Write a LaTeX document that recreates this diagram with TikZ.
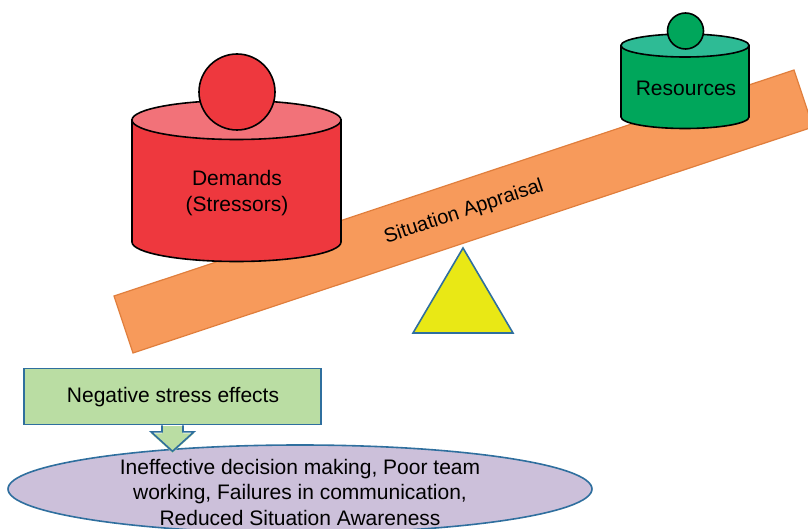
\documentclass[tikz,border=0pt]{standalone}
\usepackage{fontspec}
\setmainfont{Liberation Sans}
\usetikzlibrary{shapes.geometric}
\definecolor{plankfill}{HTML}{F79A5B}
\definecolor{plankline}{HTML}{E07E3C}
\definecolor{redside}{HTML}{EE383E}
\definecolor{redtop}{HTML}{F27279}
\definecolor{greenside}{HTML}{00A65B}
\definecolor{greentop}{HTML}{2EBB95}
\definecolor{yel}{HTML}{E9E815}
\definecolor{blueline}{HTML}{2F6F9E}
\definecolor{boxfill}{HTML}{BADDA3}
\definecolor{ellfill}{HTML}{CCC0DA}
\begin{document}
\begin{tikzpicture}[x=1pt,y=-1pt,
  lbl/.style={font=\fontsize{21}{25.5}\selectfont, align=center, inner sep=0pt, text=black},
  cyl/.style={draw=black, line width=1.6pt},
  blueedge/.style={draw=blueline, line width=1.6pt}]
\useasboundingbox (0,0) rectangle (808,529);
\clip (0,0) rectangle (808,529);
% plank
\filldraw[fill=plankfill, draw=plankline, line width=1.2pt]
  (114,296) -- (794,70) -- (813,127) -- (133,353) -- cycle;
\node[lbl, font=\fontsize{20}{24}\selectfont, rotate=18.4] (sa) at (464,212) {Situation Appraisal};
% fulcrum
\filldraw[fill=yel, blueedge] (463,248) -- (413,333) -- (513,333) -- cycle;
% demands cylinder
\filldraw[cyl, fill=redside] (132,120) -- (132,242)
  arc[start angle=180, end angle=0, x radius=104.5, y radius=19.5] -- (341,120) -- cycle;
\filldraw[cyl, fill=redtop] (236.5,120) ellipse [x radius=104.5, y radius=19.5];
\filldraw[cyl, fill=redside] (237,92) circle [radius=38];
\node[lbl] (dem) at (237,193) {Demands\\(Stressors)};
% resources cylinder
\filldraw[cyl, fill=greenside] (621,45.5) -- (621,117)
  arc[start angle=180, end angle=0, x radius=64, y radius=11.5] -- (749,45.5) -- cycle;
\filldraw[cyl, fill=greentop] (685,45.5) ellipse [x radius=64, y radius=11.5];
\filldraw[cyl, fill=greenside] (685.5,31) circle [radius=18];
\node[lbl] (res) at (686,88) {Resources};
% effects ellipse
\node[ellipse, fill=ellfill, blueedge, minimum width=584pt, minimum height=88pt, inner sep=0pt] (eff) at (300,489) {};
\node[lbl] (efftext) at (300,492) {Ineffective decision making, Poor team\\working, Failures in communication,\\Reduced Situation Awareness};
% negative stress box
\node[rectangle, fill=boxfill, blueedge, minimum width=297pt, minimum height=56pt, inner sep=0pt] (neg) at (172.5,396.5) {};
\node[lbl] (negtext) at (173,397) {Negative stress effects};
% block arrow
\fill[boxfill] ([xshift=-10.5pt, yshift=-0.8pt]neg.south) -- ++(0,7.3) -- ++(-11,0) -- ++(21.5,19.5) -- ++(21.5,-19.5) -- ++(-11,0) -- ++(0,-7.3) -- cycle;
\draw[blueedge, line join=miter] ([xshift=-10.5pt]neg.south) -- ++(0,6.5) -- ++(-11,0) -- ++(21.5,19.5) coordinate (tip) -- ++(21.5,-19.5) -- ++(-11,0) -- ++(0,-6.5);
\end{tikzpicture}
\end{document}
